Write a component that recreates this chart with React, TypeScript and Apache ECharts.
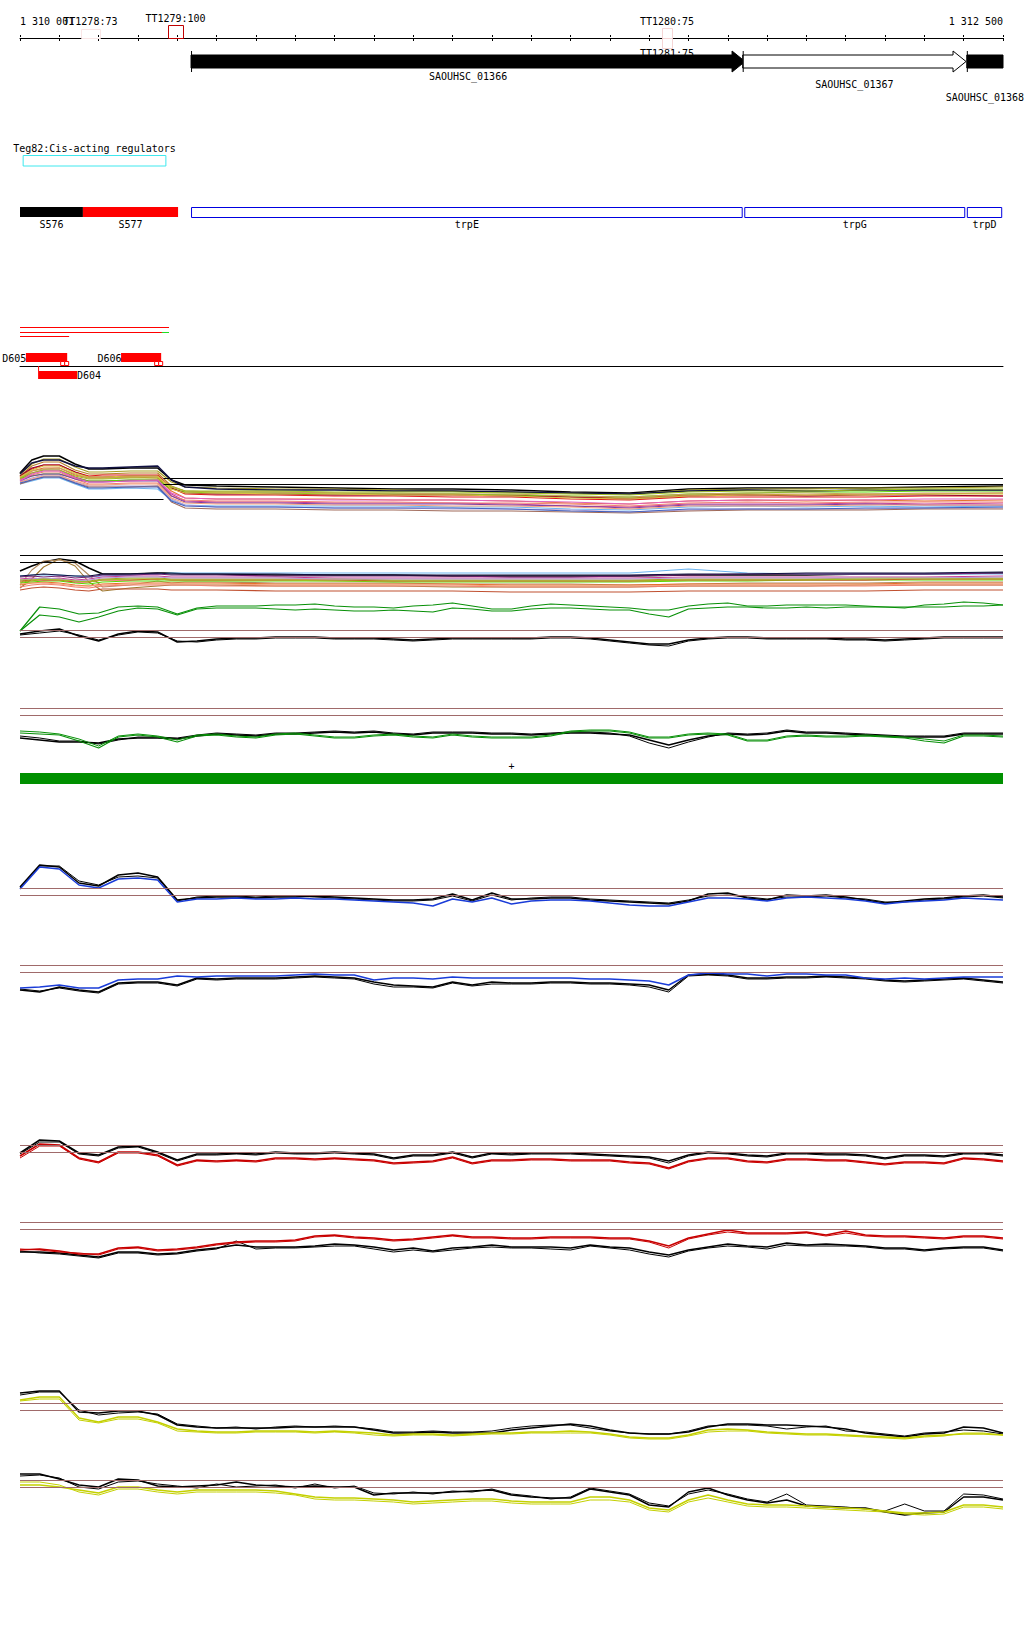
import React, { useEffect, useRef } from 'react';
import * as echarts from 'echarts';

const AXIS_MIN = 1310000;
const AXIS_MAX = 1312500;
const TICK_STEP = 100;
const RULER_LABELS = ['1 310 001', '1 312 500'];
const FONT = '"DejaVu Sans Mono", monospace';

// transcription terminators: start, end, score, strand
const TERM_NAMES = ['TT1278:73', 'TT1279:100', 'TT1280:75', 'TT1281:75'];
const TERM_DATA = [
  [1310155, 1310203, 73, 1],
  [1310376, 1310415, 100, 1],
  [1311633, 1311658, 75, 1],
  [1311633, 1311658, 75, -1],
];

// genes: start, end, strand, highlighted
const GENE_NAMES = ['SAOUHSC_01366', 'SAOUHSC_01367', 'SAOUHSC_01368'];
const GENE_DATA = [
  [1310435, 1311844, 1, 1],
  [1311838, 1312406, 1, 0],
  [1312408, 1312650, 1, 1],
];

const TEG_NAMES = ['Teg82:Cis-acting regulators'];
const TEG_DATA = [[1310008, 1310371]];

// segments: start, end, kind (0 black sRNA, 1 red sRNA, 2 CDS)
const SEG_NAMES = ['S576', 'S577', 'trpE', 'trpG', 'trpD'];
const SEG_DATA = [
  [1310000, 1310160, 0],
  [1310160, 1310402, 1],
  [1310435, 1311838, 2],
  [1311842, 1312404, 2],
  [1312408, 1312498, 2],
];

// reads: start, end, row, colour kind
const READ_DATA = [
  [1310000, 1310379, 0, 0],
  [1310000, 1310361, 1, 0],
  [1310361, 1310379, 1, 1],
  [1310000, 1310125, 2, 0],
];

// small RNA features: start, end, strand
const DFEAT_NAMES = ['D605', 'D606', 'D604'];
const DFEAT_DATA = [
  [1310015, 1310120, 1],
  [1310257, 1310359, 1],
  [1310046, 1310145, -1],
];

const STRAND_BAR = [[1310000, 1312500, 1]];

// coarse sample positions for the multi-condition bundles
const POS_COARSE = [1310000, 1310030, 1310060, 1310100, 1310140, 1310175, 1310210, 1310280, 1310350, 1310385, 1310420, 1310500, 1310650, 1310800, 1310950, 1311100, 1311250, 1311400, 1311550, 1311700, 1311850, 1312000, 1312150, 1312300, 1312500];
// fine sample positions (every 50 bp)
const FINE_STEP = 50;
const POS_FINE = Array.from({ length: 51 }, (_, i) => AXIS_MIN + i * FINE_STEP);

// bundle A
const A_VALUES = [
  [9.7, 11.0, 11.4, 11.4, 10.6, 10.1, 10.1, 10.2, 10.2, 9.0, 8.5, 8.4, 8.3, 8.2, 8.1, 8.1, 8.0, 7.8, 7.7, 8.1, 8.2, 8.2, 8.2, 8.3, 8.4],
  [9.6, 10.6, 11.1, 11.1, 10.3, 9.8, 9.8, 9.9, 9.9, 8.8, 8.3, 8.2, 8.1, 8.1, 8.0, 7.9, 7.8, 7.7, 7.6, 8.0, 8.1, 8.1, 8.2, 8.2, 8.3],
  [9.4, 10.4, 10.8, 10.8, 10.0, 9.6, 9.6, 9.7, 9.7, 8.4, 7.9, 7.8, 7.8, 7.7, 7.6, 7.6, 7.5, 7.3, 7.2, 7.5, 7.6, 7.5, 7.6, 7.6, 7.7],
  [9.3, 10.1, 10.5, 10.5, 9.8, 9.4, 9.5, 9.5, 9.5, 8.2, 7.6, 7.5, 7.5, 7.4, 7.4, 7.3, 7.3, 7.1, 7.0, 7.3, 7.3, 7.3, 7.3, 7.4, 7.4],
  [9.1, 9.9, 10.2, 10.2, 9.5, 9.2, 9.2, 9.3, 9.2, 7.9, 7.2, 7.1, 7.1, 7.1, 7.0, 7.0, 6.9, 6.7, 6.6, 6.9, 7.0, 6.9, 7.0, 6.9, 7.0],
  [9.0, 9.7, 10.0, 10.0, 9.3, 8.9, 8.9, 9.0, 9.0, 7.6, 6.9, 6.8, 6.8, 6.7, 6.7, 6.7, 6.6, 6.4, 6.3, 6.6, 6.6, 6.6, 6.7, 6.6, 6.7],
  [9.2, 9.4, 9.6, 9.6, 9.2, 8.9, 8.9, 9.0, 9.0, 8.1, 7.8, 7.7, 7.7, 7.6, 7.6, 7.6, 7.5, 7.4, 7.3, 7.6, 7.7, 7.8, 7.8, 7.9, 7.9],
  [8.6, 8.9, 9.2, 9.2, 8.6, 8.1, 8.1, 8.2, 8.1, 7.0, 6.5, 6.4, 6.4, 6.4, 6.4, 6.3, 6.3, 6.1, 6.0, 6.3, 6.4, 6.3, 6.4, 6.3, 6.4],
  [9.4, 10.2, 10.5, 10.5, 9.8, 9.3, 9.3, 9.4, 9.4, 8.2, 7.7, 7.6, 7.6, 7.5, 7.5, 7.5, 7.4, 7.3, 7.1, 7.4, 7.5, 7.4, 7.5, 7.5, 7.4],
  [9.0, 9.5, 9.8, 9.8, 9.1, 8.6, 8.6, 8.7, 8.7, 7.4, 7.0, 6.9, 6.9, 6.8, 6.8, 6.7, 6.7, 6.6, 6.4, 6.7, 6.8, 6.7, 6.8, 6.8, 6.8],
  [8.8, 9.2, 9.5, 9.5, 8.8, 8.4, 8.4, 8.4, 8.4, 7.1, 6.5, 6.3, 6.3, 6.2, 6.2, 6.1, 6.1, 6.0, 5.8, 6.0, 6.1, 6.1, 6.1, 6.2, 6.2],
  [9.2, 9.9, 10.1, 10.2, 9.6, 9.2, 9.2, 9.3, 9.3, 8.3, 7.9, 7.8, 7.8, 7.7, 7.7, 7.6, 7.6, 7.4, 7.3, 7.6, 7.7, 7.7, 7.6, 7.7, 7.7],
  [8.9, 9.4, 9.6, 9.6, 9.1, 8.8, 8.8, 8.9, 8.9, 7.4, 6.8, 6.7, 6.7, 6.6, 6.6, 6.6, 6.5, 6.4, 6.2, 6.5, 6.5, 6.5, 6.6, 6.5, 6.5],
  [8.6, 9.0, 9.3, 9.3, 8.7, 8.3, 8.3, 8.3, 8.4, 6.8, 6.2, 6.1, 6.1, 6.0, 6.0, 5.9, 5.9, 5.8, 5.7, 5.9, 6.0, 6.0, 6.0, 6.1, 6.1],
  [9.6, 10.7, 11.0, 11.0, 10.4, 10.2, 10.2, 10.3, 10.4, 9.0, 8.3, 8.1, 8.0, 8.0, 7.9, 7.9, 7.8, 7.7, 7.6, 7.9, 8.0, 7.9, 8.0, 8.0, 8.0],
  [9.2, 9.7, 10.0, 10.0, 9.4, 9.1, 9.1, 9.2, 9.2, 8.3, 7.9, 7.9, 7.9, 7.8, 7.8, 7.8, 7.7, 7.6, 7.5, 7.8, 7.9, 7.9, 8.0, 8.1, 8.1],
  [8.8, 9.1, 9.4, 9.4, 8.9, 8.5, 8.5, 8.6, 8.6, 7.2, 6.7, 6.6, 6.6, 6.5, 6.5, 6.4, 6.4, 6.3, 6.1, 6.4, 6.4, 6.4, 6.5, 6.5, 6.5],
  [8.9, 9.6, 9.9, 9.9, 9.2, 8.8, 8.8, 8.9, 9.0, 7.7, 7.2, 7.1, 7.1, 7.0, 7.0, 7.0, 6.9, 6.8, 6.6, 6.9, 7.0, 7.0, 7.0, 7.1, 7.1],
  [9.3, 10.0, 10.4, 10.4, 9.7, 9.3, 9.3, 9.4, 9.4, 8.1, 7.7, 7.7, 7.6, 7.6, 7.5, 7.5, 7.4, 7.2, 7.1, 7.4, 7.5, 7.5, 7.5, 7.6, 7.6],
  [8.7, 9.0, 9.3, 9.3, 8.7, 8.2, 8.2, 8.3, 8.3, 6.9, 6.4, 6.3, 6.3, 6.2, 6.2, 6.2, 6.1, 5.9, 5.8, 6.1, 6.1, 6.1, 6.2, 6.2, 6.3],
];
const A_COLORS = ['#000000', '#a8a020', '#b8802a', '#e01818', '#e8702c', '#c83c98', '#58d800', '#6cb4f0', '#96002c', '#f08070', '#b4a0d4', '#c8a05c', '#8040a0', '#a06a5a', '#101040', '#a0c020', '#f4a07c', '#e060c0', '#d8c040', '#4060c0'];
const A_THRESH = [[1310365, 1312500, 9.2], [1310365, 1312500, 8.6], [1310000, 1310365, 7.1]];

// bundle B
const B_VALUES = [
  [6.4, 6.9, 7.3, 7.6, 7.4, 6.7, 6.1, 6.1, 6.2, 6.2, 6.1, 6.1, 6.0, 6.0, 6.0, 5.9, 5.9, 5.9, 5.9, 6.0, 6.0, 6.0, 6.1, 6.1, 6.2],
  [4.7, 5.6, 6.8, 7.6, 6.9, 5.3, 4.4, 4.7, 4.9, 5.0, 5.0, 5.0, 4.9, 4.9, 4.9, 4.8, 4.8, 4.8, 4.8, 4.9, 4.9, 4.9, 5.0, 5.0, 5.0],
  [5.0, 6.5, 7.4, 7.5, 7.2, 6.0, 4.8, 5.0, 5.4, 5.2, 5.3, 5.3, 5.2, 5.2, 5.2, 5.1, 5.1, 5.1, 5.0, 5.1, 5.2, 5.2, 5.2, 5.3, 5.3],
  [5.9, 6.0, 6.0, 6.0, 5.9, 5.8, 5.9, 6.0, 6.1, 6.2, 6.2, 6.2, 6.2, 6.2, 6.2, 6.2, 6.2, 6.2, 6.2, 6.6, 6.2, 6.1, 6.1, 6.1, 6.1],
  [5.6, 5.7, 5.6, 5.7, 5.5, 5.6, 5.8, 5.9, 5.9, 5.8, 5.8, 5.8, 5.8, 5.7, 5.7, 5.7, 5.7, 5.7, 5.7, 5.8, 5.8, 5.8, 5.8, 5.8, 5.9],
  [5.8, 5.9, 5.8, 5.9, 5.7, 5.8, 6.0, 6.0, 6.1, 6.0, 6.0, 6.0, 5.9, 5.9, 5.9, 5.9, 5.8, 5.8, 5.9, 6.0, 6.1, 6.1, 6.1, 6.1, 6.2],
  [5.0, 5.2, 5.3, 5.2, 5.0, 4.9, 5.1, 5.2, 5.2, 5.2, 5.2, 5.2, 5.1, 5.1, 5.1, 5.1, 5.0, 5.0, 5.0, 5.1, 5.1, 5.1, 5.1, 5.2, 5.2],
  [5.2, 5.3, 5.4, 5.4, 5.2, 5.1, 5.3, 5.4, 5.4, 5.4, 5.4, 5.4, 5.4, 5.4, 5.3, 5.3, 5.3, 5.3, 5.3, 5.4, 5.4, 5.5, 5.5, 5.5, 5.5],
  [5.4, 5.5, 5.5, 5.5, 5.3, 5.3, 5.5, 5.5, 5.6, 5.5, 5.5, 5.5, 5.5, 5.5, 5.4, 5.4, 5.4, 5.4, 5.4, 5.5, 5.5, 5.5, 5.5, 5.6, 5.6],
  [5.3, 5.4, 5.6, 5.6, 5.4, 5.4, 5.6, 5.7, 5.7, 5.6, 5.6, 5.6, 5.6, 5.6, 5.5, 5.5, 5.5, 5.5, 5.5, 5.6, 5.6, 5.6, 5.7, 5.7, 5.7],
  [4.8, 5.0, 5.1, 5.0, 4.8, 4.7, 4.9, 5.0, 5.0, 5.0, 5.0, 4.9, 4.9, 4.9, 4.9, 4.9, 4.8, 4.8, 4.8, 4.9, 4.9, 4.9, 4.9, 5.0, 5.0],
  [5.5, 5.6, 5.7, 5.6, 5.4, 5.5, 5.7, 5.8, 5.8, 5.7, 5.7, 5.7, 5.7, 5.6, 5.6, 5.6, 5.6, 5.6, 5.6, 5.7, 5.7, 5.7, 5.7, 5.7, 5.8],
  [4.5, 4.7, 4.8, 4.7, 4.5, 4.4, 4.6, 4.6, 4.6, 4.5, 4.5, 4.5, 4.4, 4.4, 4.4, 4.4, 4.3, 4.3, 4.3, 4.4, 4.4, 4.4, 4.4, 4.5, 4.5],
  [5.9, 6.0, 6.1, 6.0, 5.9, 5.9, 6.1, 6.1, 6.2, 6.1, 6.1, 6.1, 6.1, 6.0, 6.0, 6.0, 6.0, 6.0, 6.0, 6.1, 6.1, 6.2, 6.2, 6.2, 6.3],
  [5.1, 5.2, 5.2, 5.1, 4.9, 4.9, 5.0, 5.1, 5.1, 5.1, 5.1, 5.1, 5.0, 5.0, 5.0, 5.0, 4.9, 4.9, 4.9, 5.0, 5.0, 5.0, 5.0, 5.1, 5.1],
  [5.5, 5.5, 5.6, 5.5, 5.4, 5.3, 5.5, 5.6, 5.6, 5.5, 5.5, 5.5, 5.5, 5.4, 5.4, 5.4, 5.4, 5.4, 5.4, 5.5, 5.5, 5.5, 5.6, 5.6, 5.6],
];
const B_COLORS = ['#000000', '#a07830', '#b08a60', '#6cb4f0', '#c83c98', '#702070', '#e8702c', '#58d800', '#e01818', '#a8a020', '#f08070', '#b4a0d4', '#c05030', '#101040', '#f4a07c', '#a0c020'];
const B_THRESH = [[1310000, 1312500, 8.0], [1310000, 1312500, 7.3]];

const G_GREEN1 = [0.4, 2.8, 2.6, 2.1, 2.2, 2.8, 2.9, 2.8, 2.1, 2.7, 2.9, 2.9, 2.9, 3.0, 3.0, 3.1, 2.9, 2.8, 2.8, 2.7, 2.9, 3.0, 3.2, 2.9, 2.6, 2.6, 2.9, 3.1, 3.0, 2.9, 2.8, 2.7, 2.5, 2.5, 2.9, 3.1, 3.2, 2.9, 2.9, 3.0, 3.0, 3.0, 3.0, 2.9, 2.8, 2.7, 3.0, 3.1, 3.3, 3.2, 3.0];
const G_GREEN2 = [0.4, 2.0, 1.8, 1.3, 1.8, 2.4, 2.7, 2.6, 2.0, 2.6, 2.7, 2.7, 2.7, 2.6, 2.5, 2.6, 2.5, 2.4, 2.4, 2.5, 2.4, 2.3, 2.7, 2.6, 2.4, 2.4, 2.6, 2.7, 2.7, 2.6, 2.5, 2.5, 2.1, 1.8, 2.6, 2.7, 2.8, 2.8, 2.7, 2.7, 2.8, 2.7, 2.8, 2.8, 2.8, 2.8, 2.8, 2.8, 2.9, 2.9, 3.0];

const BK_BLACK1 = [1.6, 1.9, 2.1, 1.4, 0.9, 1.6, 1.9, 1.8, 0.8, 0.9, 1.1, 1.2, 1.2, 1.3, 1.3, 1.3, 1.2, 1.2, 1.2, 1.1, 1.0, 1.1, 1.2, 1.2, 1.2, 1.2, 1.2, 1.3, 1.3, 1.2, 1.0, 0.8, 0.6, 0.6, 1.0, 1.2, 1.3, 1.3, 1.2, 1.2, 1.2, 1.2, 1.1, 1.1, 1.0, 1.1, 1.2, 1.3, 1.3, 1.3, 1.3];
const BK_BLACK2 = [1.5, 1.7, 1.9, 1.5, 1.0, 1.5, 1.8, 1.7, 0.9, 0.8, 1.0, 1.1, 1.1, 1.2, 1.2, 1.2, 1.1, 1.1, 1.1, 1.0, 0.9, 1.0, 1.1, 1.1, 1.1, 1.1, 1.1, 1.2, 1.2, 1.1, 0.9, 0.7, 0.5, 0.4, 0.9, 1.1, 1.2, 1.2, 1.1, 1.1, 1.1, 1.1, 1.0, 1.0, 0.9, 1.0, 1.1, 1.2, 1.2, 1.2, 1.2];
const BK_THRESH = [2.0, 1.3];

const D_BLACK1 = [1.2, 1.0, 0.8, 0.8, 0.7, 1.1, 1.2, 1.2, 1.1, 1.4, 1.6, 1.5, 1.4, 1.6, 1.6, 1.7, 1.8, 1.7, 1.8, 1.6, 1.5, 1.7, 1.7, 1.7, 1.6, 1.6, 1.5, 1.6, 1.7, 1.7, 1.6, 1.5, 1.0, 0.5, 1.0, 1.4, 1.6, 1.5, 1.6, 1.9, 1.7, 1.7, 1.6, 1.5, 1.4, 1.3, 1.3, 1.3, 1.6, 1.6, 1.6];
const D_BLACK2 = [1.4, 1.2, 0.9, 0.9, 0.6, 1.0, 1.3, 1.3, 1.2, 1.5, 1.7, 1.6, 1.5, 1.7, 1.7, 1.8, 1.9, 1.8, 1.9, 1.7, 1.6, 1.8, 1.8, 1.8, 1.7, 1.7, 1.6, 1.7, 1.8, 1.8, 1.7, 1.4, 0.7, 0.2, 0.8, 1.3, 1.7, 1.6, 1.7, 2.0, 1.8, 1.8, 1.7, 1.6, 1.5, 1.4, 1.4, 1.4, 1.7, 1.7, 1.7];
const D_GREEN1 = [1.7, 1.6, 1.5, 0.9, 0.2, 1.3, 1.5, 1.3, 0.8, 1.4, 1.5, 1.3, 1.2, 1.5, 1.6, 1.4, 1.2, 1.2, 1.4, 1.5, 1.3, 1.2, 1.5, 1.3, 1.2, 1.2, 1.2, 1.4, 1.8, 1.9, 1.9, 1.7, 1.2, 1.2, 1.5, 1.6, 1.5, 0.9, 0.9, 1.3, 1.4, 1.3, 1.3, 1.4, 1.3, 1.2, 0.9, 0.7, 1.4, 1.4, 1.3];
const D_GREEN2 = [1.9, 1.8, 1.6, 1.1, 0.4, 1.4, 1.6, 1.4, 1.0, 1.5, 1.6, 1.4, 1.3, 1.6, 1.7, 1.5, 1.3, 1.3, 1.5, 1.6, 1.4, 1.3, 1.6, 1.4, 1.3, 1.3, 1.3, 1.5, 1.9, 2.0, 2.0, 1.8, 1.3, 1.3, 1.6, 1.7, 1.6, 1.0, 1.0, 1.4, 1.5, 1.4, 1.4, 1.5, 1.4, 1.3, 1.1, 0.9, 1.5, 1.5, 1.4];
const D_THRESH = [4.2, 3.5];

const E_BLACK1 = [2.8, 5.0, 4.8, 3.2, 2.9, 4.0, 4.2, 3.8, 1.5, 1.7, 1.8, 1.8, 1.7, 1.8, 1.8, 1.9, 1.8, 1.7, 1.6, 1.5, 1.5, 1.6, 2.1, 1.5, 2.2, 1.6, 1.6, 1.7, 1.7, 1.5, 1.4, 1.3, 1.2, 1.1, 1.4, 2.1, 2.2, 1.7, 1.5, 2.0, 1.9, 2.0, 1.8, 1.5, 1.2, 1.4, 1.6, 1.7, 1.9, 2.0, 1.8];
const E_BLACK2 = [2.7, 4.9, 4.9, 3.4, 3.0, 3.8, 3.9, 3.7, 1.4, 1.8, 1.9, 1.9, 1.8, 1.9, 1.9, 1.8, 1.7, 1.6, 1.5, 1.4, 1.4, 1.5, 1.9, 1.4, 2.0, 1.5, 1.7, 1.8, 1.8, 1.6, 1.5, 1.4, 1.3, 1.2, 1.5, 1.9, 2.0, 1.8, 1.6, 1.8, 1.8, 1.9, 1.7, 1.6, 1.3, 1.3, 1.5, 1.6, 1.8, 1.9, 1.7];
const E_BLUE = [2.6, 4.8, 4.6, 3.0, 2.7, 3.6, 3.7, 3.5, 1.3, 1.6, 1.6, 1.7, 1.6, 1.6, 1.7, 1.6, 1.6, 1.5, 1.4, 1.3, 1.2, 0.9, 1.6, 1.3, 1.7, 1.1, 1.4, 1.5, 1.5, 1.4, 1.2, 1.0, 0.9, 0.9, 1.3, 1.7, 1.7, 1.6, 1.4, 1.7, 1.8, 1.7, 1.6, 1.4, 1.1, 1.3, 1.4, 1.5, 1.7, 1.6, 1.5];
const E_THRESH = [2.7, 2.0];

const F_BLACK1 = [1.0, 0.8, 1.3, 1.0, 0.8, 1.7, 1.8, 1.8, 1.5, 2.2, 2.1, 2.2, 2.2, 2.2, 2.3, 2.4, 2.3, 2.2, 1.8, 1.5, 1.4, 1.3, 1.8, 1.5, 1.8, 1.7, 1.7, 1.8, 1.8, 1.7, 1.7, 1.6, 1.5, 1.0, 2.5, 2.6, 2.5, 2.2, 2.2, 2.3, 2.3, 2.4, 2.3, 2.2, 2.0, 1.9, 2.0, 2.1, 2.2, 2.0, 1.8];
const F_BLACK2 = [1.1, 0.9, 1.2, 0.9, 0.7, 1.6, 1.7, 1.7, 1.4, 2.1, 2.0, 2.1, 2.1, 2.1, 2.2, 2.3, 2.2, 2.1, 1.6, 1.3, 1.3, 1.2, 1.7, 1.4, 1.6, 1.6, 1.6, 1.7, 1.7, 1.6, 1.6, 1.5, 1.3, 0.8, 2.4, 2.5, 2.4, 2.1, 2.1, 2.2, 2.2, 2.3, 2.2, 2.1, 1.9, 1.8, 1.9, 2.0, 2.1, 1.9, 1.7];
const F_BLUE = [1.2, 1.3, 1.5, 1.2, 1.2, 2.0, 2.1, 2.1, 2.4, 2.3, 2.4, 2.4, 2.4, 2.4, 2.5, 2.6, 2.5, 2.5, 2.0, 2.2, 2.2, 2.1, 2.3, 2.2, 2.2, 2.2, 2.2, 2.2, 2.2, 2.1, 2.1, 2.0, 1.9, 1.5, 2.5, 2.7, 2.6, 2.6, 2.4, 2.6, 2.6, 2.5, 2.5, 2.2, 2.1, 2.2, 2.1, 2.2, 2.3, 2.3, 2.3];
const F_THRESH = [3.5, 2.8];

const H_BLACK1 = [1.7, 3.0, 2.9, 1.7, 1.5, 2.3, 2.4, 1.8, 1.0, 1.6, 1.6, 1.7, 1.6, 1.8, 1.7, 1.7, 1.8, 1.7, 1.6, 1.2, 1.5, 1.5, 1.8, 1.3, 1.7, 1.6, 1.7, 1.7, 1.7, 1.6, 1.5, 1.4, 1.3, 0.9, 1.5, 1.8, 1.7, 1.5, 1.4, 1.7, 1.7, 1.6, 1.6, 1.5, 1.2, 1.5, 1.5, 1.4, 1.7, 1.7, 1.5];
const H_BLACK2 = [1.6, 2.8, 2.8, 1.6, 1.4, 2.2, 2.3, 1.7, 0.9, 1.5, 1.5, 1.6, 1.5, 1.7, 1.6, 1.6, 1.7, 1.6, 1.5, 1.1, 1.4, 1.4, 1.7, 1.2, 1.6, 1.5, 1.6, 1.6, 1.6, 1.5, 1.4, 1.3, 1.2, 0.7, 1.4, 1.7, 1.6, 1.4, 1.3, 1.6, 1.6, 1.5, 1.5, 1.4, 1.1, 1.4, 1.4, 1.3, 1.6, 1.6, 1.4];
const H_RED1 = [1.4, 2.6, 2.5, 1.2, 0.8, 1.8, 1.8, 1.5, 0.5, 1.0, 0.9, 1.0, 0.9, 1.2, 1.2, 1.1, 1.2, 1.1, 1.0, 0.7, 0.8, 0.9, 1.3, 0.7, 1.0, 1.0, 1.1, 1.1, 1.0, 1.0, 1.0, 0.8, 0.7, 0.2, 0.9, 1.2, 1.2, 0.9, 0.8, 1.1, 1.1, 1.0, 1.0, 0.8, 0.6, 0.8, 0.8, 0.7, 1.2, 1.1, 0.9];
const H_RED2 = [1.2, 2.4, 2.4, 1.1, 0.7, 1.7, 1.7, 1.4, 0.4, 0.9, 0.8, 0.9, 0.8, 1.1, 1.1, 1.0, 1.1, 1.0, 0.9, 0.6, 0.7, 0.8, 1.2, 0.6, 0.9, 0.9, 1.0, 1.0, 0.9, 0.9, 0.9, 0.7, 0.6, 0.1, 0.8, 1.1, 1.1, 0.8, 0.7, 1.0, 1.0, 0.9, 0.9, 0.7, 0.5, 0.7, 0.7, 0.6, 1.1, 1.0, 0.8];
const H_THRESH = [2.5, 1.8];

const I_BLACK1 = [0.8, 0.8, 0.7, 0.5, 0.3, 0.8, 0.8, 0.6, 0.7, 1.0, 1.2, 1.5, 1.3, 1.3, 1.3, 1.4, 1.6, 1.5, 1.3, 1.0, 1.2, 0.9, 1.2, 1.3, 1.5, 1.3, 1.3, 1.3, 1.2, 1.5, 1.3, 1.2, 0.8, 0.5, 1.0, 1.3, 1.6, 1.4, 1.3, 1.7, 1.5, 1.6, 1.5, 1.4, 1.2, 1.2, 1.0, 1.2, 1.3, 1.3, 1.0];
const I_BLACK2 = [0.9, 0.7, 0.6, 0.4, 0.2, 0.7, 0.7, 0.5, 0.6, 0.9, 1.1, 1.9, 1.1, 1.2, 1.2, 1.3, 1.4, 1.4, 1.1, 0.8, 1.0, 0.8, 1.0, 1.2, 1.3, 1.2, 1.2, 1.1, 1.0, 1.4, 1.2, 1.0, 0.6, 0.3, 0.9, 1.2, 1.4, 1.3, 1.1, 1.5, 1.4, 1.4, 1.4, 1.3, 1.1, 1.1, 0.9, 1.1, 1.2, 1.2, 0.9];
const I_RED1 = [1.0, 1.1, 0.9, 0.6, 0.6, 1.2, 1.3, 1.0, 1.1, 1.3, 1.6, 1.8, 1.9, 1.9, 2.0, 2.4, 2.5, 2.3, 2.2, 2.0, 2.1, 2.3, 2.5, 2.3, 2.3, 2.2, 2.2, 2.3, 2.3, 2.3, 2.2, 2.2, 1.9, 1.4, 2.2, 2.6, 3.0, 2.7, 2.7, 2.7, 2.8, 2.5, 2.9, 2.5, 2.4, 2.4, 2.3, 2.2, 2.4, 2.4, 2.2];
const I_RED2 = [1.1, 1.0, 0.8, 0.7, 0.5, 1.1, 1.2, 0.9, 1.0, 1.2, 1.5, 1.7, 1.8, 1.8, 1.9, 2.3, 2.4, 2.2, 2.1, 1.9, 2.0, 2.2, 2.4, 2.2, 2.2, 2.1, 2.1, 2.2, 2.2, 2.2, 2.1, 2.1, 1.8, 1.2, 2.1, 2.5, 2.8, 2.6, 2.6, 2.6, 2.7, 2.4, 2.7, 2.4, 2.3, 2.3, 2.2, 2.1, 2.3, 2.3, 2.1];
const I_THRESH = [3.8, 3.1];

const J_BLACK1 = [5.2, 5.4, 5.4, 3.3, 3.2, 3.4, 3.4, 3.0, 2.0, 1.8, 1.7, 1.7, 1.7, 1.7, 1.8, 1.8, 1.8, 1.8, 1.5, 1.2, 1.2, 1.3, 1.2, 1.2, 1.2, 1.5, 1.7, 1.9, 2.1, 1.9, 1.5, 1.2, 1.1, 1.1, 1.3, 1.8, 2.1, 2.1, 2.0, 2.0, 1.9, 1.8, 1.6, 1.2, 1.0, 0.8, 1.1, 1.2, 1.8, 1.7, 1.2];
const J_BLACK2 = [5.0, 5.3, 5.3, 3.5, 3.0, 3.2, 3.3, 3.1, 2.1, 1.9, 1.7, 1.8, 1.6, 1.8, 1.9, 1.8, 1.9, 1.8, 1.6, 1.3, 1.3, 1.4, 1.3, 1.3, 1.4, 1.7, 1.9, 2.0, 2.0, 1.7, 1.4, 1.2, 1.1, 1.1, 1.4, 1.9, 2.0, 2.0, 1.9, 1.6, 1.8, 1.9, 1.4, 1.3, 1.1, 0.9, 1.2, 1.3, 1.5, 1.4, 1.1];
const J_YEL1 = [4.5, 4.8, 4.8, 2.7, 2.3, 2.8, 2.8, 2.3, 1.6, 1.4, 1.3, 1.3, 1.4, 1.4, 1.4, 1.3, 1.4, 1.3, 1.2, 1.0, 1.1, 1.1, 1.0, 1.1, 1.2, 1.2, 1.3, 1.3, 1.4, 1.3, 1.1, 0.8, 0.7, 0.7, 1.0, 1.5, 1.6, 1.5, 1.3, 1.2, 1.1, 1.1, 1.0, 0.9, 0.8, 0.7, 0.9, 1.0, 1.1, 1.1, 1.0];
const J_YEL2 = [4.4, 4.6, 4.6, 2.5, 2.2, 2.6, 2.6, 2.2, 1.4, 1.3, 1.2, 1.2, 1.3, 1.3, 1.3, 1.2, 1.3, 1.2, 1.0, 0.9, 1.0, 1.0, 0.9, 1.0, 1.1, 1.1, 1.2, 1.2, 1.2, 1.2, 1.0, 0.7, 0.6, 0.6, 0.9, 1.3, 1.4, 1.4, 1.2, 1.1, 1.0, 1.0, 0.9, 0.8, 0.7, 0.6, 0.8, 0.9, 1.2, 1.2, 1.0];
const J_THRESH = [4.2, 3.5];

const K_BLACK1 = [4.6, 4.6, 4.1, 3.5, 3.3, 4.1, 4.0, 3.4, 3.3, 3.4, 3.5, 3.8, 3.5, 3.4, 3.3, 3.4, 3.3, 3.3, 2.5, 2.7, 2.7, 2.7, 2.8, 2.9, 3.0, 2.5, 2.3, 2.2, 2.2, 3.1, 2.8, 2.5, 1.5, 1.3, 2.8, 3.2, 2.5, 2.0, 1.7, 2.0, 1.4, 1.3, 1.2, 1.2, 0.8, 0.5, 0.7, 0.8, 2.3, 2.3, 2.0];
const K_BLACK2 = [4.4, 4.5, 4.2, 3.3, 3.1, 3.8, 3.9, 3.6, 3.4, 3.2, 3.6, 3.3, 3.4, 3.5, 3.2, 3.6, 3.2, 3.4, 2.7, 2.6, 2.8, 2.6, 2.9, 2.8, 3.1, 2.6, 2.4, 2.1, 2.3, 3.2, 2.9, 2.6, 1.7, 1.4, 2.6, 3.0, 2.6, 2.1, 1.8, 2.6, 1.5, 1.4, 1.3, 1.1, 0.9, 1.6, 0.9, 0.9, 2.6, 2.5, 2.1];
const K_YEL1 = [3.5, 3.5, 3.3, 3.0, 2.7, 3.3, 3.3, 3.0, 2.8, 3.0, 3.0, 3.0, 3.0, 2.9, 2.6, 2.3, 2.2, 2.2, 2.1, 2.0, 1.8, 1.9, 2.0, 2.1, 2.1, 1.9, 1.8, 1.8, 1.8, 2.3, 2.3, 2.0, 1.2, 1.0, 2.0, 2.5, 2.0, 1.6, 1.5, 1.5, 1.4, 1.3, 1.2, 1.1, 0.9, 0.7, 0.7, 0.8, 1.5, 1.5, 1.3];
const K_YEL2 = [3.8, 3.8, 3.5, 2.8, 2.5, 3.1, 3.1, 2.8, 2.6, 2.8, 2.8, 2.8, 2.8, 2.7, 2.5, 2.1, 2.0, 2.0, 1.9, 1.8, 1.6, 1.7, 1.8, 1.9, 1.9, 1.7, 1.6, 1.6, 1.6, 2.0, 2.0, 1.8, 1.0, 0.8, 1.8, 2.2, 1.8, 1.4, 1.3, 1.3, 1.2, 1.1, 1.0, 0.9, 0.8, 0.6, 0.5, 0.6, 1.3, 1.3, 1.1];
const K_THRESH = [4.0, 3.3];

const BROWN = '#a06a6a';
const BLUE = '#1a3cd8';
const RED = '#c80000';
const YELLOW = '#c4d000';
const GREEN = '#089008';
const GENE_LABEL_GAP = [14.5, 22.5, 35.5];

function mixColor(t: number) {
  const r = Math.round(255 + (192 - 255) * t);
  const g = Math.round(255 + (0 - 255) * t);
  const b = Math.round(255 + (0 - 255) * t);
  return `rgb(${r},${g},${b})`;
}

function txt(text: string, x: number, y: number, align = 'center') {
  return { type: 'text', x, y, style: { text, fontFamily: FONT, fontSize: 10, fill: '#000', align, verticalAlign: 'middle' } };
}

function buildOption() {
  const grids: any[] = [];
  const xAxes: any[] = [];
  const yAxes: any[] = [];
  const series: any[] = [];

  const addGrid = (top: number, height: number, ymin = 0, ymax = 1, xOpts: any = {}) => {
    const gi = grids.length;
    grids.push({ left: 20, right: 21, top, height });
    const xi = xAxes.length;
    xAxes.push({ gridIndex: gi, type: 'value', min: AXIS_MIN, max: AXIS_MAX, show: false, splitLine: { show: false }, ...xOpts });
    const yi = yAxes.length;
    yAxes.push({ gridIndex: gi, type: 'value', min: ymin, max: ymax, show: false, splitLine: { show: false } });
    return { gi, xi, yi };
  };

  // ruler
  const ruler = addGrid(37, 1, 0, 1, {
    show: true, position: 'bottom', interval: TICK_STEP,
    axisLine: { show: true, lineStyle: { color: '#000', width: 1 } },
    axisTick: { show: true, length: 3, lineStyle: { color: '#000' } },
    axisLabel: { show: false },
  });
  xAxes.push({
    gridIndex: ruler.gi, type: 'value', min: AXIS_MIN, max: AXIS_MAX, interval: TICK_STEP, position: 'top', show: true,
    axisLine: { show: false }, splitLine: { show: false },
    axisTick: { show: true, length: 2, lineStyle: { color: '#000' } },
    axisLabel: {
      show: true, margin: 11, fontFamily: FONT, fontSize: 10, color: '#000',
      showMinLabel: true, showMaxLabel: true, alignMinLabel: 'left', alignMaxLabel: 'right',
      formatter: (v: number) => (v === AXIS_MIN ? RULER_LABELS[0] : v === AXIS_MAX ? RULER_LABELS[1] : ''),
    },
  });

  series.push({
    type: 'custom', xAxisIndex: ruler.xi, yAxisIndex: ruler.yi, z: 2, silent: true, clip: false,
    data: TERM_DATA, encode: { x: [0, 1] },
    renderItem: (params: any, api: any) => {
      const s = api.value(0), e = api.value(1), score = api.value(2), strand = api.value(3);
      const a = api.coord([s, 0]);
      const b = api.coord([e, 0]);
      const h = (13 * score) / 100;
      const y = strand > 0 ? a[1] - h : a[1];
      const t = Math.max(0.08, Math.min(1, (score - 70) / 30));
      const labelY = strand > 0 ? y - 7 : y + h + 6;
      return {
        type: 'group',
        children: [
          { type: 'rect', shape: { x: Math.round(a[0]) + 0.5, y: Math.round(y) + 0.5, width: Math.round(b[0] - a[0]), height: Math.round(h) }, style: { fill: 'none', stroke: mixColor(t), lineWidth: 1 } },
          txt(TERM_NAMES[params.dataIndex], (a[0] + b[0]) / 2, labelY),
        ],
      };
    },
  });

  // genes
  const genes = addGrid(55, 13);
  series.push({
    type: 'custom', xAxisIndex: genes.xi, yAxisIndex: genes.yi, z: 3, silent: true, clip: false,
    data: GENE_DATA, encode: { x: [0, 1] },
    renderItem: (params: any, api: any) => {
      const cs = params.coordSys;
      const s = api.value(0), e = api.value(1), strand = api.value(2), filled = api.value(3);
      const left = cs.x, right = cs.x + cs.width;
      const p0 = api.coord([s, 0.5]);
      const p1 = api.coord([e, 0.5]);
      const cy = p0[1];
      const x0 = Math.max(p0[0], left);
      const clipped = p1[0] > right;
      const xe = Math.min(p1[0], right);
      const bh = 6.5, hh = 10.5, hl = 13;
      let pts: number[][];
      if (clipped) pts = [[x0, cy - bh], [xe, cy - bh], [xe, cy + bh], [x0, cy + bh]];
      else if (strand > 0) {
        const hb = xe - hl;
        pts = [[x0, cy - bh], [hb, cy - bh], [hb, cy - hh], [xe, cy], [hb, cy + hh], [hb, cy + bh], [x0, cy + bh]];
      } else {
        const hb = x0 + hl;
        pts = [[xe, cy - bh], [hb, cy - bh], [hb, cy - hh], [x0, cy], [hb, cy + hh], [hb, cy + bh], [xe, cy + bh]];
      }
      const startX = strand > 0 ? x0 : xe;
      return {
        type: 'group',
        children: [
          { type: 'polygon', shape: { points: pts }, style: { fill: filled ? '#000' : '#fff', stroke: '#000', lineWidth: 1 } },
          { type: 'line', shape: { x1: startX + 0.5, y1: cy - hh, x2: startX + 0.5, y2: cy + hh }, style: { stroke: '#000', lineWidth: 1 } },
          txt(GENE_NAMES[params.dataIndex], (x0 + xe) / 2, cy + GENE_LABEL_GAP[params.dataIndex]),
        ],
      };
    },
  });

  // Teg track
  const teg = addGrid(155.5, 10.5);
  series.push({
    type: 'custom', xAxisIndex: teg.xi, yAxisIndex: teg.yi, silent: true, clip: false,
    data: TEG_DATA, encode: { x: [0, 1] },
    renderItem: (params: any, api: any) => {
      const cs = params.coordSys;
      const a = api.coord([api.value(0), 0]);
      const b = api.coord([api.value(1), 0]);
      return {
        type: 'group',
        children: [
          { type: 'rect', shape: { x: a[0], y: cs.y, width: b[0] - a[0], height: cs.height }, style: { fill: 'none', stroke: '#3ee8ee', lineWidth: 1 } },
          txt(TEG_NAMES[params.dataIndex], (a[0] + b[0]) / 2, cs.y - 7),
        ],
      };
    },
  });

  // segments
  const seg = addGrid(207, 10);
  series.push({
    type: 'custom', xAxisIndex: seg.xi, yAxisIndex: seg.yi, silent: true, clip: false,
    data: SEG_DATA, encode: { x: [0, 1] },
    renderItem: (params: any, api: any) => {
      const cs = params.coordSys;
      const a = api.coord([api.value(0), 0]);
      const b = api.coord([api.value(1), 0]);
      const kind = api.value(2);
      const style = kind === 0 ? { fill: '#000' } : kind === 1 ? { fill: '#ff0000' } : { fill: '#fff', stroke: '#0000e0', lineWidth: 1 };
      const inset = kind === 2 ? 0.5 : 0;
      return {
        type: 'group',
        children: [
          { type: 'rect', shape: { x: a[0] + inset, y: cs.y + inset, width: b[0] - a[0] - inset * 2, height: cs.height }, style },
          txt(SEG_NAMES[params.dataIndex], (a[0] + b[0]) / 2, cs.y + cs.height + 7),
        ],
      };
    },
  });

  // reads + small RNA features, baseline is the x axis line
  const reads = addGrid(320, 46, 0, 1, {
    show: true, position: 'bottom',
    axisLine: { show: true, lineStyle: { color: '#000', width: 1 } },
    axisTick: { show: false }, axisLabel: { show: false },
  });
  series.push({
    type: 'custom', xAxisIndex: reads.xi, yAxisIndex: reads.yi, silent: true, clip: false,
    data: READ_DATA, encode: { x: [0, 1] },
    renderItem: (params: any, api: any) => {
      const cs = params.coordSys;
      const a = api.coord([api.value(0), 0]);
      const b = api.coord([api.value(1), 0]);
      const y = Math.round(cs.y + 7 + api.value(2) * 4.5) + 0.5;
      return { type: 'line', shape: { x1: a[0], y1: y, x2: b[0], y2: y }, style: { stroke: api.value(3) === 0 ? '#ff0000' : '#22dd22', lineWidth: 1 } };
    },
  });
  series.push({
    type: 'custom', xAxisIndex: reads.xi, yAxisIndex: reads.yi, silent: true, clip: false,
    data: DFEAT_DATA, encode: { x: [0, 1] },
    renderItem: (params: any, api: any) => {
      const cs = params.coordSys;
      const base = cs.y + cs.height;
      const a = api.coord([api.value(0), 0]);
      const b = api.coord([api.value(1), 0]);
      const strand = api.value(2);
      const name = DFEAT_NAMES[params.dataIndex];
      if (strand > 0) {
        return {
          type: 'group',
          children: [
            { type: 'rect', shape: { x: a[0], y: base - 13, width: b[0] - a[0], height: 9 }, style: { fill: '#ff0000' } },
            { type: 'rect', shape: { x: b[0] - 6.5, y: base - 4.5, width: 4, height: 4 }, style: { fill: '#fff', stroke: '#ff0000', lineWidth: 1 } },
            { type: 'rect', shape: { x: b[0] - 2.5, y: base - 4.5, width: 4, height: 4 }, style: { fill: '#fff', stroke: '#ff0000', lineWidth: 1 } },
            txt(name, a[0] + 0.5, base - 8, 'right'),
          ],
        };
      }
      return {
        type: 'group',
        children: [
          { type: 'line', shape: { x1: a[0] + 0.5, y1: base, x2: a[0] + 0.5, y2: base + 5 }, style: { stroke: '#ff0000', lineWidth: 1 } },
          { type: 'rect', shape: { x: a[0], y: base + 5, width: b[0] - a[0], height: 8 }, style: { fill: '#ff0000' } },
          txt(name, b[0], base + 9, 'left'),
        ],
      };
    },
  });

  const addLine = (g: any, xs: number[], vals: number[], color: string, width = 1, z = 2) => {
    series.push({
      type: 'line', xAxisIndex: g.xi, yAxisIndex: g.yi, silent: true, symbol: 'none', showSymbol: false, z,
      data: xs.map((x, i) => [x, vals[i]]),
      lineStyle: { color, width },
    });
  };
  const addThresh = (g: any, lines: number[][], color: string) => {
    series.push({
      type: 'line', xAxisIndex: g.xi, yAxisIndex: g.yi, silent: true, symbol: 'none', data: [], z: 1,
      markLine: {
        silent: true, symbol: ['none', 'none'], label: { show: false },
        lineStyle: { color, width: 1, type: 'solid' },
        data: lines.map(([x1, x2, v]) => [{ coord: [x1, v] }, { coord: [x2, v] }]),
      },
    });
  };
  const full = (vals: number[]) => vals.map((v) => [AXIS_MIN, AXIS_MAX, v]);

  // bundle A
  const gA = addGrid(440, 80, 5, 13);
  addThresh(gA, A_THRESH, '#000');
  A_VALUES.forEach((vals, i) => addLine(gA, POS_COARSE, vals, A_COLORS[i], i === 0 || i === 14 ? 1.5 : 1.1));

  // bundle B
  const gB = addGrid(545, 60, 3, 9);
  addThresh(gB, B_THRESH, '#000');
  B_VALUES.forEach((vals, i) => addLine(gB, POS_COARSE, vals, B_COLORS[i], i === 0 ? 1.5 : 1.1));

  // green pair
  const gG = addGrid(600, 35, 0, 3.5);
  addLine(gG, POS_FINE, G_GREEN1, GREEN, 1.2);
  addLine(gG, POS_FINE, G_GREEN2, GREEN, 1.2);

  // black pair
  const gBK = addGrid(625, 25, 0, 2.5);
  addThresh(gBK, full(BK_THRESH), BROWN);
  addLine(gBK, POS_FINE, BK_BLACK1, '#000', 1.5);
  addLine(gBK, POS_FINE, BK_BLACK2, '#000', 1);

  // D panel
  const gD = addGrid(700, 50, 0, 5);
  addThresh(gD, full(D_THRESH), BROWN);
  addLine(gD, POS_FINE, D_BLACK1, '#000', 1.5);
  addLine(gD, POS_FINE, D_BLACK2, '#000', 1);
  addLine(gD, POS_FINE, D_GREEN1, GREEN, 1.2);
  addLine(gD, POS_FINE, D_GREEN2, GREEN, 1);

  // strand bar
  const gBar = addGrid(773, 11);
  series.push({
    type: 'custom', xAxisIndex: gBar.xi, yAxisIndex: gBar.yi, silent: true, clip: false,
    data: STRAND_BAR, encode: { x: [0, 1] },
    renderItem: (params: any, api: any) => {
      const cs = params.coordSys;
      const a = api.coord([api.value(0), 0]);
      const b = api.coord([api.value(1), 0]);
      return {
        type: 'group',
        children: [
          { type: 'rect', shape: { x: a[0], y: cs.y, width: b[0] - a[0], height: cs.height }, style: { fill: '#009000' } },
          txt(api.value(2) > 0 ? '+' : '-', (a[0] + b[0]) / 2, cs.y - 7),
        ],
      };
    },
  });

  const gE = addGrid(855, 60, 0, 6);
  addThresh(gE, full(E_THRESH), BROWN);
  addLine(gE, POS_FINE, E_BLACK1, '#000', 1.5);
  addLine(gE, POS_FINE, E_BLACK2, '#000', 1);
  addLine(gE, POS_FINE, E_BLUE, BLUE, 1.5);

  const gF = addGrid(960, 40, 0, 4);
  addThresh(gF, full(F_THRESH), BROWN);
  addLine(gF, POS_FINE, F_BLACK1, '#000', 1.5);
  addLine(gF, POS_FINE, F_BLACK2, '#000', 1);
  addLine(gF, POS_FINE, F_BLUE, BLUE, 1.5);

  const gH = addGrid(1130, 40, 0, 4);
  addThresh(gH, full(H_THRESH), BROWN);
  addLine(gH, POS_FINE, H_BLACK1, '#000', 1.5);
  addLine(gH, POS_FINE, H_BLACK2, '#000', 1);
  addLine(gH, POS_FINE, H_RED1, RED, 1.5);
  addLine(gH, POS_FINE, H_RED2, RED, 1);

  const gI = addGrid(1215, 45, 0, 4.5);
  addThresh(gI, full(I_THRESH), BROWN);
  addLine(gI, POS_FINE, I_BLACK1, '#000', 1.5);
  addLine(gI, POS_FINE, I_BLACK2, '#000', 1);
  addLine(gI, POS_FINE, I_RED1, RED, 1.5);
  addLine(gI, POS_FINE, I_RED2, RED, 1);

  const gJ = addGrid(1385, 60, 0, 6);
  addThresh(gJ, full(J_THRESH), BROWN);
  addLine(gJ, POS_FINE, J_BLACK1, '#000', 1.5);
  addLine(gJ, POS_FINE, J_BLACK2, '#000', 1);
  addLine(gJ, POS_FINE, J_YEL1, YELLOW, 1.5);
  addLine(gJ, POS_FINE, J_YEL2, YELLOW, 1);

  const gK = addGrid(1465, 55, 0, 5.5);
  addThresh(gK, full(K_THRESH), BROWN);
  addLine(gK, POS_FINE, K_BLACK1, '#000', 1.5);
  addLine(gK, POS_FINE, K_BLACK2, '#000', 1);
  addLine(gK, POS_FINE, K_YEL1, YELLOW, 1.5);
  addLine(gK, POS_FINE, K_YEL2, YELLOW, 1);

  return {
    animation: false,
    backgroundColor: '#ffffff',
    grid: grids,
    xAxis: xAxes,
    yAxis: yAxes,
    series,
  };
}

export default function App() {
  const ref = useRef<HTMLDivElement>(null);
  useEffect(() => {
    const chart = echarts.init(ref.current as HTMLDivElement, null, { renderer: 'svg' });
    chart.setOption(buildOption() as any);
    return () => chart.dispose();
  }, []);
  return <div ref={ref} style={{ position: 'absolute', left: 0, top: 0, width: 1024, height: 1640, background: '#fff' }} />;
}
